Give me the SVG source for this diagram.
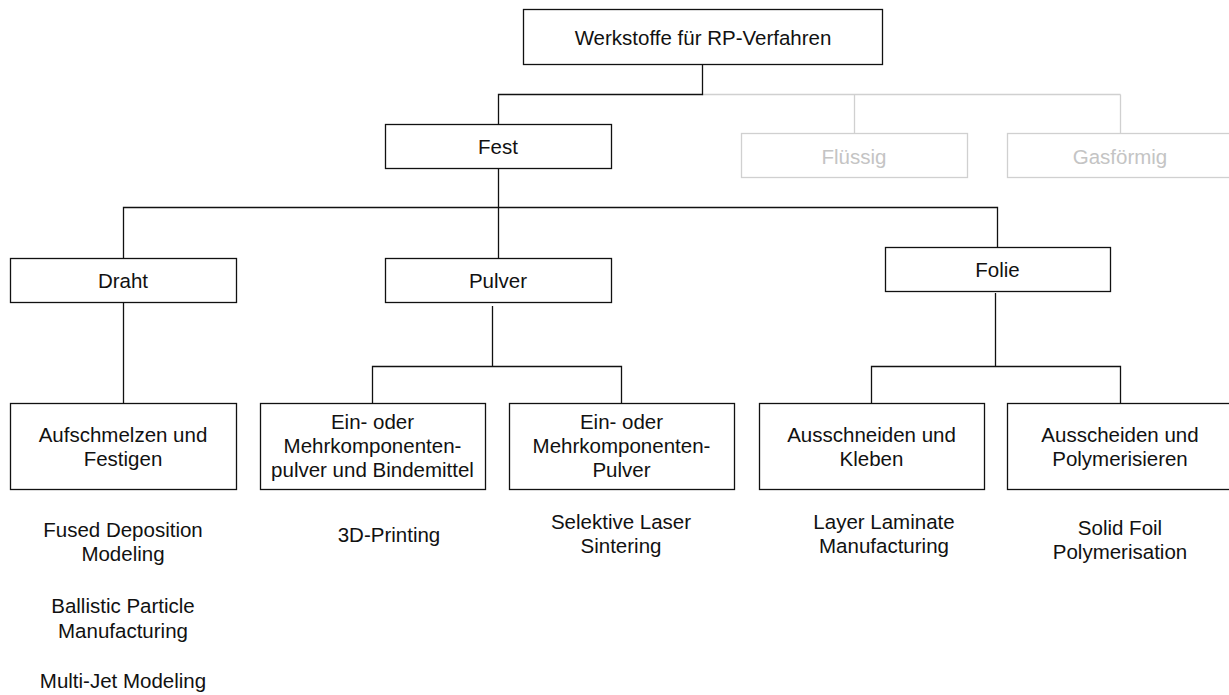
<svg xmlns="http://www.w3.org/2000/svg" width="1229" height="695" viewBox="0 0 1229 695">
<style>
text{font-family:"Liberation Sans",Arial,Helvetica,sans-serif;font-size:20.5px;fill:#111;text-anchor:middle}
.box{fill:#fff;stroke:#111;stroke-width:1.3}
.gbox{fill:#fff;stroke:#d0d0d0;stroke-width:1.3}
text.g{fill:#c4c4c4}
.ln{fill:none;stroke:#111;stroke-width:1.3}
.gln{fill:none;stroke:#d0d0d0;stroke-width:1.3}
</style>
<rect width="1229" height="695" fill="#fff"/>
<g id="connectors">
<path class="gln" d="M702,94.5H1120.5M854.5,94.5V133M1120.5,94.5V133"/>
<path class="ln" d="M702.5,64V94.5H498.5V124"/>
<path class="ln" d="M498.5,168V207.5M123.5,258V207.5H997.5V247M498.5,207.5V258"/>
<path class="ln" d="M123.5,302V403"/>
<path class="ln" d="M492.5,306V366.5M372.5,403V366.5H621.5V403"/>
<path class="ln" d="M995.5,293V366.5M871.5,403V366.5H1120.5V403"/>
</g>
<g id="n-werkstoffe"><rect class="box" x="523.5" y="9.5" width="359" height="55"/><text x="703" y="45">Werkstoffe für RP-Verfahren</text></g>
<g id="n-fest"><rect class="box" x="385.5" y="124.5" width="226" height="44"/><text x="498" y="154">Fest</text></g>
<g id="n-fluessig"><rect class="gbox" x="741.5" y="133.5" width="226" height="44"/><text class="g" x="854" y="163.5">Flüssig</text></g>
<g id="n-gasfoermig"><rect class="gbox" x="1007.5" y="133.5" width="226" height="44"/><text class="g" x="1120" y="163.5">Gasförmig</text></g>
<g id="n-draht"><rect class="box" x="10.5" y="258.5" width="226" height="44"/><text x="123" y="288">Draht</text></g>
<g id="n-pulver"><rect class="box" x="385.5" y="258.5" width="226" height="44"/><text x="498" y="288">Pulver</text></g>
<g id="n-folie"><rect class="box" x="885.5" y="247.5" width="225" height="44"/><text x="997.5" y="277">Folie</text></g>
<g id="n-aufschmelzen"><rect class="box" x="10.5" y="403.5" width="226" height="86"/><text x="123" y="441.7">Aufschmelzen und</text><text x="123" y="466.2">Festigen</text></g>
<g id="n-pulver-binder"><rect class="box" x="260.5" y="403.5" width="225" height="86"/><text x="372.5" y="428.5">Ein- oder</text><text x="372.5" y="452.8">Mehrkomponenten-</text><text x="372.5" y="477">pulver und Bindemittel</text></g>
<g id="n-pulver2"><rect class="box" x="509.5" y="403.5" width="225" height="86"/><text x="621.5" y="428.5">Ein- oder</text><text x="621.5" y="452.8">Mehrkomponenten-</text><text x="621.5" y="477">Pulver</text></g>
<g id="n-ausschneiden"><rect class="box" x="759.5" y="403.5" width="225" height="86"/><text x="871.5" y="441.7">Ausschneiden und</text><text x="871.5" y="466.2">Kleben</text></g>
<g id="n-ausscheiden"><rect class="box" x="1007.5" y="403.5" width="225" height="86"/><text x="1120" y="441.7">Ausscheiden und</text><text x="1120" y="466.2">Polymerisieren</text></g>
<g id="labels">
<text x="123" y="536.5">Fused Deposition</text><text x="123" y="561">Modeling</text>
<text x="123" y="613">Ballistic Particle</text><text x="123" y="637.5">Manufacturing</text>
<text x="123" y="688">Multi-Jet Modeling</text>
<text x="389" y="541.5">3D-Printing</text>
<text x="621" y="528.5">Selektive Laser</text><text x="621" y="553">Sintering</text>
<text x="884" y="528.5">Layer Laminate</text><text x="884" y="553">Manufacturing</text>
<text x="1120" y="534.5">Solid Foil</text><text x="1120" y="559">Polymerisation</text>
</g>
</svg>
